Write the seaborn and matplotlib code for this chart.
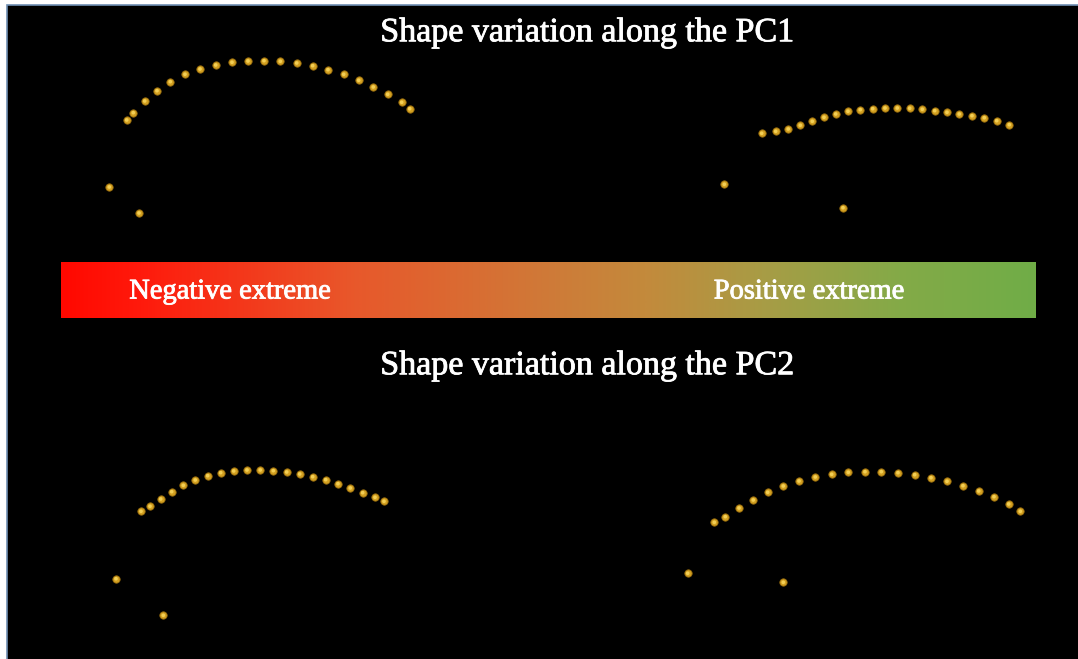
import numpy as np
import pandas as pd
import matplotlib
matplotlib.use("Agg")
import matplotlib.pyplot as plt
import matplotlib.patheffects as pe
from matplotlib.colors import LinearSegmentedColormap
from matplotlib.patches import Rectangle
import seaborn as sns

# Landmark configurations (canvas units, y grows downward)
pc1_neg_x = [126.7, 133.3, 144.7, 157.0, 170.3, 185.0, 200.0, 215.7, 232.0, 248.0, 264.0,
             280.3, 296.7, 312.7, 328.0, 343.7, 358.7, 373.3, 387.7, 401.7, 409.7, 109.3, 139.0]
pc1_neg_y = [120.0, 112.7, 101.0, 90.7, 81.7, 74.3, 69.0, 65.0, 62.3, 61.0, 60.7,
             61.3, 63.0, 65.7, 69.7, 74.3, 80.3, 87.0, 94.3, 102.3, 108.7, 187.0, 213.0]

pc1_pos_x = [761.7, 775.7, 788.3, 800.3, 812.3, 824.0, 835.7, 848.0, 860.3, 872.7, 885.0,
             897.3, 909.7, 922.3, 934.7, 947.0, 959.3, 972.0, 984.3, 996.7, 1009.3, 724.3, 843.0]
pc1_pos_y = [133.3, 131.3, 129.0, 125.3, 121.3, 117.3, 114.0, 111.3, 109.7, 108.7, 108.0,
             108.0, 108.3, 109.3, 110.7, 112.3, 114.0, 115.7, 117.7, 120.7, 124.7, 184.3, 207.7]

pc2_neg_x = [141.0, 150.0, 160.7, 171.7, 183.3, 195.3, 207.7, 220.7, 233.7, 247.0, 260.3,
             273.3, 286.7, 299.7, 312.7, 325.7, 338.0, 350.3, 362.7, 375.0, 384.0, 116.0, 163.3]
pc2_neg_y = [511.3, 506.3, 499.0, 491.7, 485.3, 480.0, 475.7, 472.7, 471.0, 470.0, 470.0,
             470.7, 472.0, 474.0, 476.7, 479.7, 483.7, 488.0, 492.7, 497.3, 501.3, 578.7, 615.3]

pc2_pos_x = [714.3, 725.3, 739.0, 753.3, 767.7, 783.3, 799.0, 815.3, 831.7, 848.3, 865.0,
             881.3, 898.0, 914.7, 931.0, 947.0, 963.0, 978.7, 994.0, 1008.7, 1020.3, 687.7, 783.3]
pc2_pos_y = [522.3, 516.7, 508.0, 500.0, 492.3, 486.0, 481.0, 477.0, 474.3, 472.3, 471.7,
             471.7, 472.7, 474.7, 477.7, 481.3, 485.7, 491.0, 496.7, 504.0, 511.3, 573.3, 582.3]

titles = ["Shape variation along the PC1", "Shape variation along the PC2"]
extreme_labels = ["Negative extreme", "Positive extreme"]

W, H = 1078, 659
sns.set_theme(style="white")
plt.rcParams["font.family"] = ["Liberation Serif", "DejaVu Serif"]

fig = plt.figure(figsize=(W / 100, H / 100), dpi=100)
fig.patch.set_facecolor("white")
ax = fig.add_axes([0, 0, 1, 1])

# Black slide panel with a thin steel-blue frame
ax.add_patch(Rectangle((7, 5), W, H, facecolor="black", edgecolor="#6f8fb3",
                       linewidth=1.2, zorder=0))

# Red-to-green gradient bar
grad_cmap = LinearSegmentedColormap.from_list(
    "extreme",
    [(0.0, "#ff0800"), (0.08, "#ff1a0c"), (0.3, "#e8582b"), (0.5, "#cf7a38"),
     (0.6, "#c38a3c"), (0.72, "#a89c45"), (0.86, "#84aa48"), (1.0, "#70ad47")])
ax.imshow(np.linspace(0, 1, 512)[None, :], cmap=grad_cmap, aspect="auto",
          extent=(61, 1036, 318, 262), zorder=1, interpolation="bilinear")

thick = [pe.withStroke(linewidth=0.6, foreground="white")]
ax.text(230, 292, extreme_labels[0], color="white", fontsize=20.5,
        ha="center", va="center", zorder=3, path_effects=thick)
ax.text(809, 292, extreme_labels[1], color="white", fontsize=20.5,
        ha="center", va="center", zorder=3, path_effects=thick)

ax.text(587, 33, titles[0], color="white", fontsize=24.5, ha="center", va="center",
        zorder=3, path_effects=thick)
ax.text(587, 366, titles[1], color="white", fontsize=24.5, ha="center", va="center",
        zorder=3, path_effects=thick)

# Landmark spheres
frames = []
for name, xs, ys in [("pc1_neg", pc1_neg_x, pc1_neg_y), ("pc1_pos", pc1_pos_x, pc1_pos_y),
                     ("pc2_neg", pc2_neg_x, pc2_neg_y), ("pc2_pos", pc2_pos_x, pc2_pos_y)]:
    frames.append(pd.DataFrame({"x": xs, "y": ys, "shape": name}))
df = pd.concat(frames, ignore_index=True)

sns.scatterplot(data=df, x="x", y="y", ax=ax, color="#d3a021", edgecolor="#94690c",
                linewidth=0.6, s=28, legend=False, zorder=4)
sns.scatterplot(data=df, x="x", y="y", ax=ax, color="#f3cf55", edgecolor="none",
                s=7, legend=False, zorder=5)
ax.set_xlabel("")
ax.set_ylabel("")
ax.set_xlim(0, W)
ax.set_ylim(H, 0)
ax.axis("off")

fig.savefig("out.png", dpi=100, facecolor="white")
